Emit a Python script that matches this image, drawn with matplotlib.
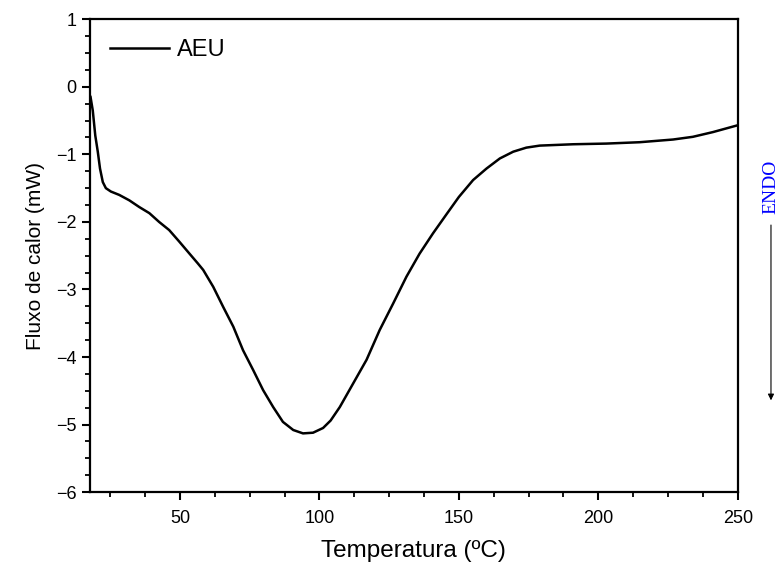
import numpy as np
import matplotlib
matplotlib.use("Agg")
import matplotlib.pyplot as plt
from matplotlib.ticker import MultipleLocator

plt.rcParams['font.family'] = ['Liberation Sans', 'DejaVu Sans']

# DSC curve (temperature in C, heat flow in mW)
temp = [17.9, 18.1, 18.7, 19.6, 20.5, 21.3, 22.3, 23.4, 25.2, 28.2, 31.8, 35.4,
        39.0, 42.5, 46.1, 49.7, 53.4, 56.3, 58.3, 61.9, 65.5, 69.1, 72.6, 76.2,
        79.8, 83.4, 86.9, 90.6, 94.1, 97.7, 101.3, 104.0, 107.3, 112.1, 116.9,
        121.6, 126.4, 131.2, 135.9, 140.7, 145.5, 150.0, 155.1, 159.9, 164.7,
        169.5, 174.2, 179.0, 191.0, 202.9, 214.8, 226.8, 233.9, 241.1, 249.9]
flux = [-0.15, -0.20, -0.35, -0.72, -0.96, -1.21, -1.41, -1.50, -1.55, -1.60,
        -1.68, -1.78, -1.87, -2.00, -2.12, -2.29, -2.47, -2.61, -2.71, -2.96,
        -3.26, -3.55, -3.90, -4.19, -4.49, -4.74, -4.96, -5.08, -5.13, -5.12,
        -5.05, -4.94, -4.74, -4.39, -4.04, -3.60, -3.21, -2.81, -2.47, -2.17,
        -1.89, -1.63, -1.38, -1.21, -1.06, -0.96, -0.90, -0.87, -0.85, -0.84,
        -0.82, -0.78, -0.74, -0.67, -0.57]

fig = plt.figure(figsize=(7.79, 5.67), dpi=100)
ax = fig.add_axes([0.1155, 0.132, 0.8315, 0.834])

ax.plot(temp, flux, color="black", linewidth=1.8, label="AEU",
        solid_joinstyle="round")

ax.set_xlim(17.7, 250)
ax.set_ylim(-6, 1)
ax.xaxis.set_major_locator(MultipleLocator(50))
ax.xaxis.set_minor_locator(MultipleLocator(12.5))
ax.yaxis.set_major_locator(MultipleLocator(1))
ax.yaxis.set_minor_locator(MultipleLocator(0.25))
ax.tick_params(which="major", direction="out", length=6, width=1.5, labelsize=13)
ax.tick_params(axis="x", which="major", pad=7)
ax.tick_params(which="minor", direction="out", length=3.5, width=1.3)
for s in ax.spines.values():
    s.set_linewidth(1.6)

ax.set_xlabel("Temperatura (ºC)", fontsize=17.5, labelpad=9)
ax.set_ylabel("Fluxo de calor (mW)", fontsize=15, labelpad=8)
ax.legend(loc="upper left", frameon=False, fontsize=17, handlelength=2.5,
          handletextpad=0.35, borderaxespad=0.45)

# ENDO marker at the right side
fig.text(0.9897, 0.67, "ENDO", rotation=90, color="blue", fontsize=14,
         family=["Liberation Serif", "DejaVu Serif"], ha="center", va="center")
ax.annotate("", xy=(0.9897, 0.289), xytext=(0.9897, 0.608),
            xycoords="figure fraction", textcoords="figure fraction",
            arrowprops=dict(arrowstyle="-|>", color="black", lw=0.8,
                            mutation_scale=9))

fig.savefig("out.png", dpi=100, facecolor="white")
